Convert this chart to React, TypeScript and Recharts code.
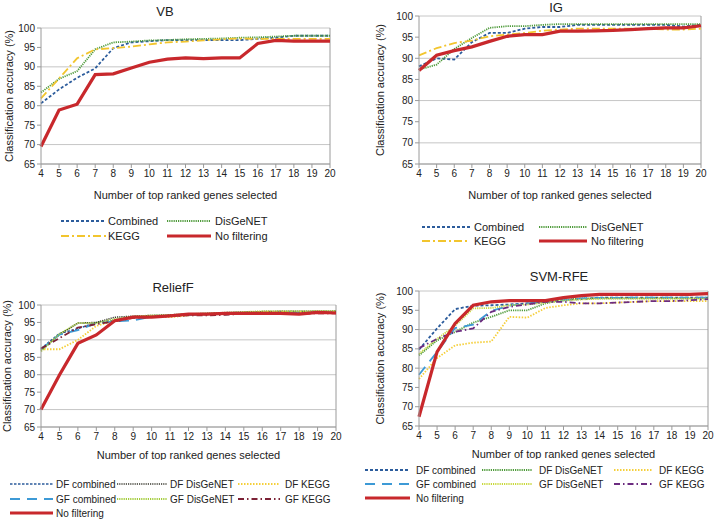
import React from "react";
import {
  LineChart,
  Line,
  XAxis,
  YAxis,
  CartesianGrid,
  ReferenceLine,
} from "recharts";

const FONT = '"Liberation Sans", Arial, sans-serif';

const genes = [4, 5, 6, 7, 8, 9, 10, 11, 12, 13, 14, 15, 16, 17, 18, 19, 20];
const accTicks = [65, 70, 75, 80, 85, 90, 95, 100];

// VB
const vbCombined = [80.6, 84.2, 87.2, 89.6, 94.8, 96.3, 96.6, 96.9, 96.9, 96.9, 96.9, 96.9, 97.2, 97.5, 98.0, 98.0, 98.0];
const vbDisgenet = [83.4, 86.9, 88.9, 94.5, 96.3, 96.5, 96.8, 96.9, 97.1, 97.2, 97.3, 97.5, 97.6, 97.8, 98.0, 98.0, 98.0];
const vbKegg = [81.9, 87.0, 92.2, 94.5, 94.8, 95.2, 95.8, 96.3, 96.5, 96.8, 97.1, 97.3, 97.2, 97.2, 97.2, 97.2, 97.2];
const vbNone = [69.5, 78.9, 80.4, 88.0, 88.2, 89.7, 91.2, 92.0, 92.3, 92.1, 92.3, 92.3, 96.0, 96.8, 96.6, 96.6, 96.6];

// IG
const igCombined = [88.1, 90.0, 89.7, 93.8, 96.0, 96.0, 97.0, 97.4, 97.4, 97.9, 97.9, 97.9, 97.9, 97.9, 97.9, 97.5, 97.9];
const igDisgenet = [87.3, 88.5, 92.2, 94.8, 97.2, 97.6, 97.6, 97.9, 98.1, 98.1, 98.1, 98.1, 98.1, 98.1, 98.1, 98.1, 98.1];
const igKegg = [90.7, 92.4, 93.6, 94.2, 95.2, 95.6, 96.0, 96.5, 96.8, 97.0, 97.0, 97.0, 97.0, 97.0, 96.8, 96.8, 97.0];
const igNone = [87.1, 90.7, 91.8, 92.7, 94.0, 95.2, 95.6, 95.6, 96.4, 96.4, 96.5, 96.6, 96.8, 97.0, 97.2, 97.2, 97.7];

// ReliefF
const rfDfCombined = [87.5, 91.8, 93.2, 95.0, 95.6, 96.6, 96.8, 97.0, 97.2, 97.3, 97.5, 97.6, 97.7, 97.8, 97.8, 97.9, 97.9];
const rfDfDisgenet = [87.0, 91.5, 94.8, 95.0, 96.5, 96.8, 97.0, 97.2, 97.4, 97.6, 97.8, 98.0, 98.1, 98.2, 98.2, 98.2, 98.2];
const rfDfKegg = [87.3, 87.3, 90.0, 94.0, 95.5, 96.5, 96.8, 96.5, 97.0, 97.3, 97.6, 97.8, 98.0, 98.0, 98.0, 98.0, 98.0];
const rfGfCombined = [87.3, 91.5, 92.8, 94.8, 95.3, 95.6, 96.6, 96.8, 97.1, 97.3, 97.5, 97.6, 97.7, 97.8, 97.8, 97.9, 97.9];
const rfGfDisgenet = [86.7, 91.7, 94.8, 94.8, 96.0, 96.7, 97.0, 97.1, 97.4, 97.6, 97.8, 98.0, 98.2, 98.2, 98.2, 98.3, 98.3];
const rfGfKegg = [87.5, 90.5, 93.5, 94.5, 95.3, 96.3, 96.5, 96.8, 97.0, 97.0, 97.2, 97.5, 97.5, 97.5, 97.5, 97.6, 97.6];
const rfNone = [70.0, 79.9, 89.0, 91.4, 95.5, 96.5, 96.5, 96.9, 97.4, 97.4, 97.6, 97.6, 97.6, 97.6, 97.4, 97.9, 97.7];

// SVM-RFE
const svDfCombined = [84.8, 90.3, 95.3, 96.2, 96.3, 96.5, 96.8, 97.2, 97.7, 97.9, 98.3, 98.3, 98.3, 98.3, 98.3, 98.3, 98.3];
const svDfDisgenet = [83.3, 87.2, 89.4, 91.8, 93.3, 95.0, 95.0, 96.8, 97.7, 98.1, 98.1, 98.1, 98.1, 98.1, 98.1, 98.1, 98.1];
const svDfKegg = [77.2, 82.6, 85.9, 86.6, 86.9, 93.3, 93.1, 95.6, 96.3, 96.8, 96.8, 97.0, 97.2, 97.4, 97.4, 97.4, 97.4];
const svGfCombined = [78.3, 84.2, 90.4, 91.3, 94.8, 96.2, 96.8, 97.2, 97.6, 98.1, 98.2, 98.2, 98.3, 98.3, 98.3, 98.3, 98.3];
const svGfDisgenet = [83.7, 87.6, 91.0, 95.5, 95.6, 96.3, 96.5, 97.0, 97.5, 97.8, 98.0, 98.0, 98.0, 98.0, 98.0, 98.0, 98.0];
const svGfKegg = [85.2, 87.6, 89.4, 90.3, 94.6, 95.9, 96.5, 97.2, 97.2, 96.8, 96.8, 97.0, 97.2, 97.4, 97.4, 97.6, 97.9];
const svNone = [67.4, 84.2, 91.6, 96.3, 97.2, 97.5, 97.5, 97.5, 98.3, 98.8, 99.1, 99.1, 99.1, 99.1, 99.1, 99.1, 99.3];

interface Series {
  name: string;
  values: number[];
  color: string;
  dash?: string;
  width: number;
}

const RED = "#c8282c";
const BLUE = "#2c5c9c";
const GREEN = "#4e9a3a";
const YELLOW = "#f2c52e";

const none = (values: number[]): Series => ({ name: "No filtering", values, color: RED, width: 3.2 });

const vbSeries: Series[] = [
  { name: "Combined", values: vbCombined, color: BLUE, dash: "3 2", width: 1.8 },
  { name: "DisGeNET", values: vbDisgenet, color: GREEN, dash: "1.2 1", width: 1.8 },
  { name: "KEGG", values: vbKegg, color: YELLOW, dash: "8 3 2 3", width: 1.8 },
  none(vbNone),
];

const igSeries: Series[] = [
  { name: "Combined", values: igCombined, color: BLUE, dash: "3 2", width: 1.8 },
  { name: "DisGeNET", values: igDisgenet, color: GREEN, dash: "1.2 1", width: 1.8 },
  { name: "KEGG", values: igKegg, color: YELLOW, dash: "8 3 2 3", width: 1.8 },
  none(igNone),
];

const rfSeries: Series[] = [
  { name: "DF combined", values: rfDfCombined, color: BLUE, dash: "2.5 1.5", width: 1.5 },
  { name: "DF DisGeNET", values: rfDfDisgenet, color: "#3a3a30", dash: "1.2 1", width: 1.5 },
  { name: "DF KEGG", values: rfDfKegg, color: "#f5cf3a", dash: "1.5 1.5", width: 1.8 },
  { name: "GF combined", values: rfGfCombined, color: "#3d9ad6", dash: "10 7", width: 1.8 },
  { name: "GF DisGeNET", values: rfGfDisgenet, color: "#a3cc3a", dash: "1.2 1", width: 1.8 },
  { name: "GF KEGG", values: rfGfKegg, color: "#7c2236", dash: "6 3 1.5 3", width: 1.8 },
  none(rfNone),
];

const svSeries: Series[] = [
  { name: "DF combined", values: svDfCombined, color: BLUE, dash: "3 2", width: 1.8 },
  { name: "DF DisGeNET", values: svDfDisgenet, color: GREEN, dash: "1.2 1", width: 1.8 },
  { name: "DF KEGG", values: svDfKegg, color: "#f5cf3a", dash: "1.5 1.5", width: 1.8 },
  { name: "GF combined", values: svGfCombined, color: "#3d9ad6", dash: "10 7", width: 1.8 },
  { name: "GF DisGeNET", values: svGfDisgenet, color: "#c8d83c", dash: "1.2 1", width: 1.8 },
  { name: "GF KEGG", values: svGfKegg, color: "#6c2c80", dash: "6 3 1.5 3", width: 1.8 },
  none(svNone),
];

function buildRows(series: Series[]) {
  return genes.map((g, i) => {
    const row: Record<string, number> = { x: g };
    series.forEach((s, k) => (row[`s${k}`] = s.values[i]));
    return row;
  });
}

interface PanelProps {
  title: string;
  titleX: number;
  titleY: number;
  left: number;
  top: number;
  width: number;
  height: number;
  plotTop: number;
  plotRight: number;
  yAxisWidth: number;
  xAxisHeight: number;
  yLabelX: number;
  xLabelOffset: number;
  series: Series[];
  legendCols: [number, number, number][];
  legendRows: number[];
  legendFont: number;
}

function Panel(p: PanelProps) {
  const data = buildRows(p.series);
  const tick = { fontSize: 10, fill: "#222", fontFamily: FONT };
  return (
    <>
      <div
        style={{
          position: "absolute",
          left: p.titleX - 60,
          top: p.titleY - 8,
          width: 120,
          textAlign: "center",
          fontFamily: FONT,
          fontSize: 13,
          color: "#222",
          lineHeight: "16px",
        }}
      >
        {p.title}
      </div>
      <div style={{ position: "absolute", left: p.left, top: p.top }}>
        <LineChart
          width={p.width}
          height={p.height}
          data={data}
          margin={{ top: p.plotTop, right: p.plotRight, left: 0, bottom: 0 }}
        >
          <CartesianGrid vertical={false} stroke="#c6c6c6" />
          <XAxis
            dataKey="x"
            type="number"
            domain={[4, 20]}
            ticks={genes}
            interval={0}
            height={p.xAxisHeight}
            tick={tick}
            tickSize={4}
            tickMargin={2}
            axisLine={{ stroke: "#9a9a9a" }}
            tickLine={{ stroke: "#9a9a9a" }}
            label={{
              value: "Number of top ranked genes selected",
              position: "insideBottom",
              offset: p.xLabelOffset,
              style: { fontSize: 11, fill: "#222", fontFamily: FONT },
            }}
          />
          <YAxis
            domain={[65, 100]}
            ticks={accTicks}
            width={p.yAxisWidth}
            tick={tick}
            tickSize={4}
            tickMargin={2}
            axisLine={{ stroke: "#9a9a9a" }}
            tickLine={{ stroke: "#9a9a9a" }}
            label={{
              value: "Classification accuracy (%)",
              angle: -90,
              position: "insideLeft",
              offset: p.yLabelX,
              style: { textAnchor: "middle", fontSize: 11, fill: "#222", fontFamily: FONT },
            }}
          />
          <ReferenceLine x={20} stroke="#9a9a9a" />
          {p.series.map((s, k) => (
            <Line
              key={s.name}
              dataKey={`s${k}`}
              stroke={s.color}
              strokeWidth={s.width}
              strokeDasharray={s.dash}
              dot={false}
              isAnimationActive={false}
            />
          ))}
        </LineChart>
      </div>
      <svg
        width={714}
        height={519}
        style={{ position: "absolute", left: 0, top: 0, pointerEvents: "none" }}
      >
        {p.series.map((s, k) => {
          const col = p.legendCols[k % p.legendCols.length];
          const y = p.legendRows[Math.floor(k / p.legendCols.length)];
          return (
            <g key={s.name}>
              <line
                x1={col[0]}
                x2={col[1]}
                y1={y}
                y2={y}
                stroke={s.color}
                strokeWidth={s.width}
                strokeDasharray={s.dash}
              />
              <text
                x={col[2]}
                y={y}
                dominantBaseline="central"
                fontSize={p.legendFont}
                fontFamily={FONT}
                fill="#222"
              >
                {s.name}
              </text>
            </g>
          );
        })}
      </svg>
    </>
  );
}

export default function App() {
  return (
    <div
      style={{
        position: "absolute",
        left: 0,
        top: 0,
        width: 714,
        height: 519,
        background: "#fff",
        overflow: "hidden",
      }}
    >
      <Panel
        title="VB"
        titleX={165}
        titleY={12}
        left={0}
        top={0}
        width={340}
        height={210}
        plotTop={28}
        plotRight={10}
        yAxisWidth={41}
        xAxisHeight={46}
        yLabelX={9}
        xLabelOffset={11}
        series={vbSeries}
        legendCols={[
          [61, 106, 108],
          [167, 211, 215],
        ]}
        legendRows={[221, 236]}
        legendFont={11}
      />
      <Panel
        title="IG"
        titleX={556}
        titleY={8}
        left={357}
        top={0}
        width={357}
        height={210}
        plotTop={16}
        plotRight={13}
        yAxisWidth={62}
        xAxisHeight={46}
        yLabelX={23}
        xLabelOffset={11}
        series={igSeries}
        legendCols={[
          [422, 470, 474],
          [539, 587, 591],
        ]}
        legendRows={[227, 241]}
        legendFont={11}
      />
      <Panel
        title="ReliefF"
        titleX={173}
        titleY={288}
        left={0}
        top={260}
        width={345}
        height={200}
        plotTop={45}
        plotRight={9}
        yAxisWidth={41}
        xAxisHeight={33}
        yLabelX={7}
        xLabelOffset={1}
        series={rfSeries}
        legendCols={[
          [10, 53, 56],
          [117, 167, 170],
          [238, 280, 285],
        ]}
        legendRows={[484, 499, 513]}
        legendFont={10}
      />
      <Panel
        title="SVM-RFE"
        titleX={559}
        titleY={277}
        left={357}
        top={260}
        width={357}
        height={199}
        plotTop={31}
        plotRight={6}
        yAxisWidth={62}
        xAxisHeight={33}
        yLabelX={23}
        xLabelOffset={1}
        series={svSeries}
        legendCols={[
          [365, 410, 416],
          [482, 532, 539],
          [614, 652, 659],
        ]}
        legendRows={[470, 484, 498]}
        legendFont={10}
      />
    </div>
  );
}
